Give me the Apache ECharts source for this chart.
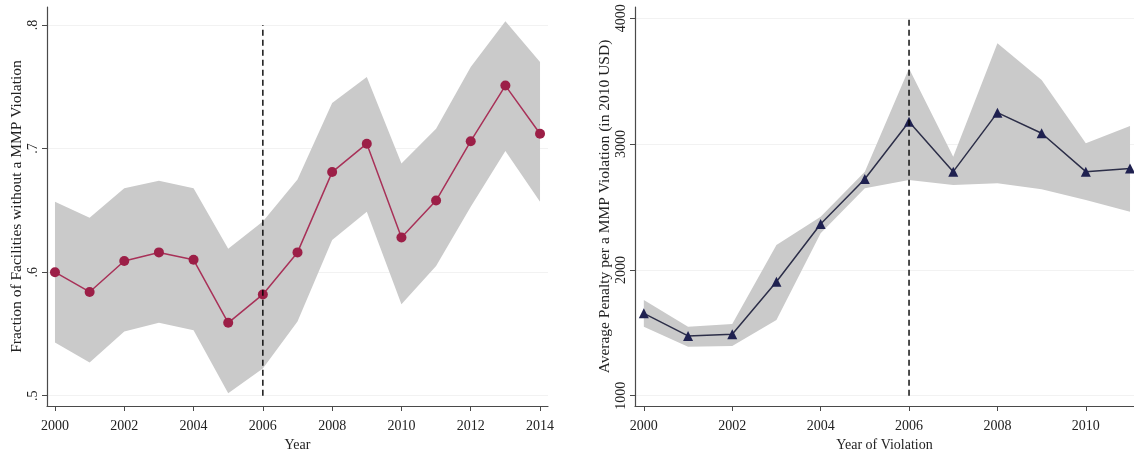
<!DOCTYPE html>
<html>
<head>
<meta charset="utf-8">
<script src="https://cdn.jsdelivr.net/npm/echarts@6/dist/echarts.min.js"></script>
<style>
  html, body { margin: 0; padding: 0; background: #fff; }
  #chart { width: 1134px; height: 452px; }
</style>
</head>
<body>
<div id="chart"></div>
<script>
// left panel: share of facilities without a violation
var leftYears = [2000, 2001, 2002, 2003, 2004, 2005, 2006, 2007, 2008, 2009, 2010, 2011, 2012, 2013, 2014];
var leftMean  = [0.600, 0.584, 0.609, 0.616, 0.610, 0.559, 0.582, 0.616, 0.681, 0.704, 0.628, 0.658, 0.706, 0.751, 0.712];
var leftUpper = [0.657, 0.644, 0.668, 0.674, 0.668, 0.619, 0.641, 0.675, 0.737, 0.758, 0.688, 0.716, 0.766, 0.803, 0.770];
var leftLower = [0.543, 0.527, 0.552, 0.559, 0.553, 0.502, 0.522, 0.560, 0.626, 0.649, 0.574, 0.605, 0.653, 0.698, 0.657];
var leftXTicks = [2000, 2002, 2004, 2006, 2008, 2010, 2012, 2014];
var leftYTicks = [0.5, 0.6, 0.7, 0.8];

// right panel: average penalty
var rightYears = [2000, 2001, 2002, 2003, 2004, 2005, 2006, 2007, 2008, 2009, 2010, 2011];
var rightMean  = [1655, 1475, 1488, 1906, 2365, 2723, 3178, 2781, 3250, 3086, 2781, 2807];
var rightUpper = [1761, 1548, 1570, 2198, 2423, 2780, 3602, 2900, 3801, 3510, 3006, 3144];
var rightLower = [1548, 1389, 1395, 1602, 2291, 2649, 2715, 2675, 2688, 2641, 2556, 2463];
var rightXTicks = [2000, 2002, 2004, 2006, 2008, 2010];
var rightYTicks = [1000, 2000, 3000, 4000];

var cutYear = 2006;

var font = "Liberation Serif";
var txt = "#222";
var axisCol = "#4a4a4a";
var bandCol = "#cacaca";

function pairs(xs, ys) {
	return xs.map(function (x, i) { return [x, ys[i]]; });
}

function xAxisFor(idx, min, max, ticks, name) {
	return {
		type: "value", gridIndex: idx, min: min, max: max,
		name: name, nameLocation: "middle", nameGap: 31,
		nameTextStyle: { fontFamily: font, fontSize: 14, color: txt },
		axisLine: { show: true, lineStyle: { color: axisCol, width: 1.2 } },
		axisTick: { show: true, length: 5, customValues: ticks, lineStyle: { color: axisCol } },
		axisLabel: { customValues: ticks, fontFamily: font, fontSize: 14, color: txt, margin: 13,
			formatter: function (v) { return String(v); } },
		splitLine: { show: false }
	};
}

function yAxisFor(idx, min, max, ticks, name, fmt) {
	return {
		type: "value", gridIndex: idx, min: min, max: max,
		name: name, nameLocation: "middle", nameGap: 22, nameRotate: 90,
		nameTextStyle: { fontFamily: font, fontSize: 15.5, color: txt },
		axisLine: { show: true, lineStyle: { color: axisCol, width: 1.2 } },
		axisTick: { show: true, length: 5, customValues: ticks, lineStyle: { color: axisCol } },
		axisLabel: { customValues: ticks, rotate: 90, fontFamily: font, fontSize: 14, color: txt, margin: 7, formatter: fmt },
		splitLine: { show: false }
	};
}

// confidence band as one polygon: upper edge forward, lower edge back
function bandSeries(idx, xs, lo, hi) {
	return {
		type: "custom", xAxisIndex: idx, yAxisIndex: idx, silent: true, clip: true, z: 1,
		data: [[xs[0], lo[0]]],
		renderItem: function (params, api) {
			var pts = [];
			xs.forEach(function (x, i) { pts.push(api.coord([x, hi[i]])); });
			for (var i = xs.length - 1; i >= 0; i--) pts.push(api.coord([xs[i], lo[i]]));
			return { type: "polygon", shape: { points: pts }, style: { fill: bandCol } };
		}
	};
}

function meanSeries(idx, xs, ys, sym, mColor, lColor, ticks) {
	return {
		type: "line", xAxisIndex: idx, yAxisIndex: idx, data: pairs(xs, ys),
		symbol: sym, symbolSize: 10,
		itemStyle: { color: mColor },
		lineStyle: { color: lColor, width: 1.5 }, z: 4,
		markLine: {
			silent: true, symbol: "none", label: { show: false }, z: 0,
			lineStyle: { color: "#f2f2f2", width: 1, type: "solid" },
			data: ticks.map(function (t) { return { yAxis: t }; })
		}
	};
}

function cutSeries(idx, ticks) {
	return {
		type: "line", xAxisIndex: idx, yAxisIndex: idx, symbol: "none", silent: true,
		data: [[cutYear, ticks[0]], [cutYear, ticks[ticks.length - 1]]],
		lineStyle: { color: "#000", width: 1.4, type: [6, 4] }, z: 5
	};
}

var series = [
	bandSeries(0, leftYears, leftLower, leftUpper),
	meanSeries(0, leftYears, leftMean, "circle", "#9c1f47", "#a83158", leftYTicks),
	cutSeries(0, leftYTicks),
	bandSeries(1, rightYears, rightLower, rightUpper),
	meanSeries(1, rightYears, rightMean, "triangle", "#1f2150", "#2c2e48", rightYTicks),
	cutSeries(1, rightYTicks)
];

var option = {
	animation: false,
	backgroundColor: "#fff",
	grid: [
		{ left: 47, top: 7, width: 501, height: 399, outerBoundsMode: "none", containLabel: false },
		{ left: 635, top: 7, width: 499, height: 399, outerBoundsMode: "none", containLabel: false }
	],
	xAxis: [
		xAxisFor(0, 1999.77, 2014.23, leftXTicks, "Year"),
		xAxisFor(1, 1999.8, 2011.09, rightXTicks, "Year of Violation")
	],
	yAxis: [
		yAxisFor(0, 0.4917, 0.8146, leftYTicks, "Fraction of Facilities without a MMP Violation",
			function (v) { return String(Math.round(v * 10) / 10).replace(/^0/, ""); }),
		yAxisFor(1, 918, 4090, rightYTicks, "Average Penalty per a MMP Violation (in 2010 USD)",
			function (v) { return String(v); })
	],
	series: series
};

var chart = echarts.init(document.getElementById("chart"));
chart.setOption(option);
</script>
</body>
</html>
